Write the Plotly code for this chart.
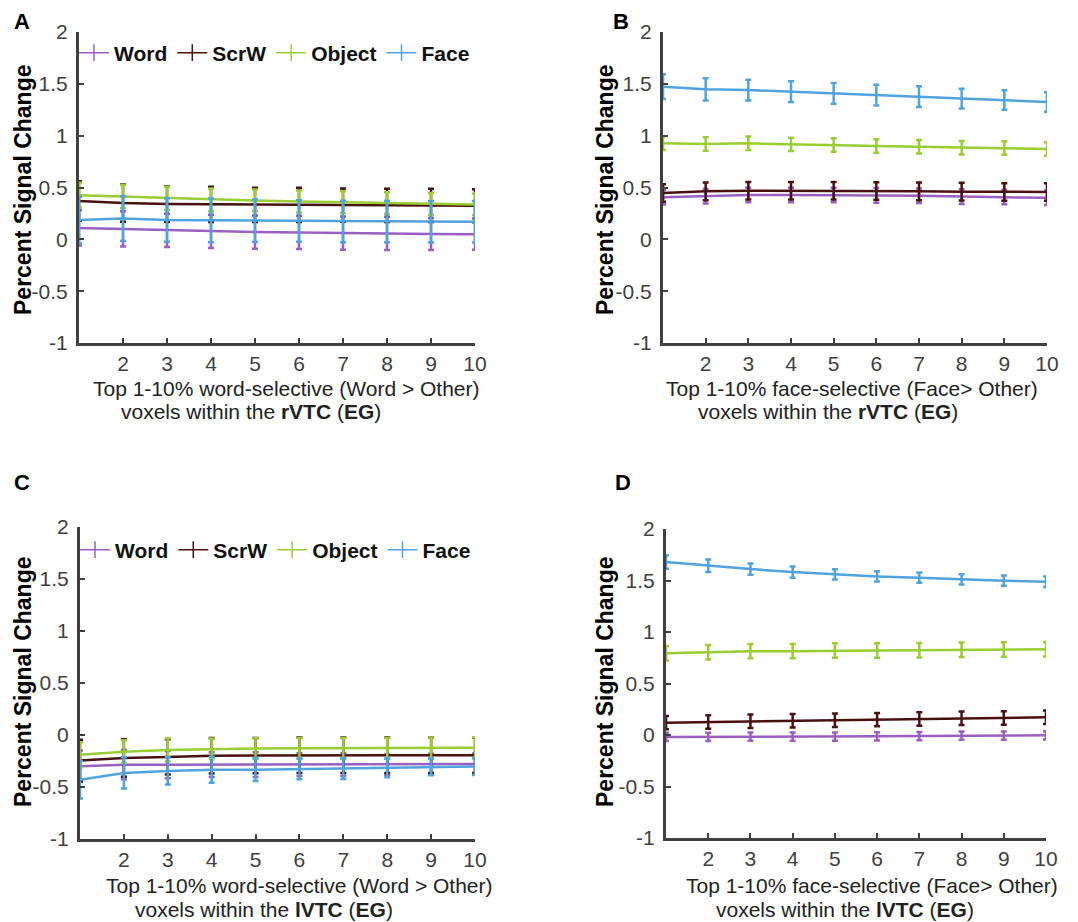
import plotly.graph_objects as go

W, H = 1078, 922
OFF = 8  # page body margin offset

x_vals = [1, 2, 3, 4, 5, 6, 7, 8, 9, 10]
x_ticks = [2, 3, 4, 5, 6, 7, 8, 9, 10]
y_ticks = [-1, -0.5, 0, 0.5, 1, 1.5, 2]
y_ticktext = ["-1", "-0.5", "0", "0.5", "1", "1.5", "2"]
series_names = ["Word", "ScrW", "Object", "Face"]

# Panel A (rVTC, word-selective)
word_A = [0.110, 0.100, 0.087, 0.077, 0.070, 0.067, 0.060, 0.058, 0.051, 0.050]
word_A_err = [0.17, 0.17, 0.16, 0.16, 0.16, 0.16, 0.16, 0.16, 0.155, 0.15]
scrw_A = [0.370, 0.350, 0.340, 0.337, 0.333, 0.333, 0.330, 0.327, 0.327, 0.324]
scrw_A_err = [0.19, 0.18, 0.17, 0.17, 0.165, 0.165, 0.16, 0.16, 0.16, 0.16]
obj_A = [0.426, 0.413, 0.394, 0.381, 0.375, 0.365, 0.359, 0.350, 0.343, 0.337]
obj_A_err = [0.12, 0.11, 0.11, 0.11, 0.105, 0.105, 0.105, 0.105, 0.105, 0.105]
face_A = [0.186, 0.200, 0.186, 0.183, 0.180, 0.176, 0.173, 0.173, 0.170, 0.170]
face_A_err = [0.225, 0.215, 0.21, 0.21, 0.205, 0.2, 0.2, 0.2, 0.2, 0.2]

# Panel B (rVTC, face-selective)
word_B = [0.405, 0.415, 0.428, 0.428, 0.428, 0.424, 0.421, 0.412, 0.408, 0.400]
word_B_err = [0.07] * 10
scrw_B = [0.447, 0.463, 0.469, 0.469, 0.469, 0.466, 0.463, 0.460, 0.457, 0.457]
scrw_B_err = [0.085] * 10
obj_B = [0.926, 0.920, 0.926, 0.916, 0.910, 0.900, 0.894, 0.884, 0.881, 0.871]
obj_B_err = [0.065] * 10
face_B = [1.473, 1.447, 1.440, 1.424, 1.408, 1.392, 1.376, 1.357, 1.344, 1.325]
face_B_err = [0.12, 0.107, 0.1, 0.1, 0.1, 0.1, 0.1, 0.095, 0.095, 0.095]

# Panel C (lVTC, word-selective)
word_C = [-0.300, -0.285, -0.285, -0.285, -0.285, -0.285, -0.285, -0.285, -0.281, -0.278]
word_C_err = [0.15, 0.14, 0.13, 0.12, 0.12, 0.11, 0.11, 0.10, 0.10, 0.10]
scrw_C = [-0.246, -0.221, -0.211, -0.200, -0.198, -0.195, -0.195, -0.195, -0.195, -0.195]
scrw_C_err = [0.2, 0.18, 0.17, 0.17, 0.17, 0.17, 0.17, 0.17, 0.17, 0.17]
obj_C = [-0.189, -0.160, -0.144, -0.134, -0.131, -0.128, -0.128, -0.128, -0.125, -0.122]
obj_C_err = [0.12, 0.11, 0.11, 0.10, 0.10, 0.10, 0.10, 0.10, 0.10, 0.10]
face_C = [-0.430, -0.365, -0.345, -0.333, -0.333, -0.326, -0.323, -0.317, -0.307, -0.304]
face_C_err = [0.18, 0.15, 0.13, 0.125, 0.11, 0.10, 0.10, 0.09, 0.08, 0.08]

# Panel D (lVTC, face-selective)
word_D = [-0.019, -0.019, -0.016, -0.016, -0.016, -0.013, -0.010, -0.006, -0.006, -0.003]
word_D_err = [0.04] * 10
scrw_D = [0.120, 0.126, 0.133, 0.139, 0.143, 0.149, 0.156, 0.162, 0.165, 0.172]
scrw_D_err = [0.065] * 10
obj_D = [0.794, 0.804, 0.814, 0.814, 0.820, 0.820, 0.823, 0.827, 0.830, 0.833]
obj_D_err = [0.07] * 10
face_D = [1.679, 1.643, 1.611, 1.582, 1.559, 1.540, 1.527, 1.510, 1.498, 1.488]
face_D_err = [0.065, 0.06, 0.055, 0.055, 0.05, 0.05, 0.05, 0.05, 0.05, 0.05]

colors = {"Word": "#9a5fc2", "ScrW": "#4a1010", "Object": "#9acd32", "Face": "#4fa3df"}

FONT = "Liberation Sans, Arial, Helvetica, sans-serif"
AXC = "#404040"

def fx(p):
    return (p - OFF) / W

def fy(p):
    return 1 - (p - OFF) / H

panels = [
    ("x", "y", [(word_A, word_A_err), (scrw_A, scrw_A_err), (obj_A, obj_A_err), (face_A, face_A_err)],
     "legend", (79, 475), (32, 343)),
    ("x2", "y2", [(word_B, word_B_err), (scrw_B, scrw_B_err), (obj_B, obj_B_err), (face_B, face_B_err)],
     None, (663, 1047), (32, 343)),
    ("x3", "y3", [(word_C, word_C_err), (scrw_C, scrw_C_err), (obj_C, obj_C_err), (face_C, face_C_err)],
     "legend2", (80, 475), (527, 839)),
    ("x4", "y4", [(word_D, word_D_err), (scrw_D, scrw_D_err), (obj_D, obj_D_err), (face_D, face_D_err)],
     None, (666, 1046), (529, 838)),
]

fig = go.Figure()
layout = dict(
    template="none",
    width=W, height=H,
    margin=dict(l=0, r=0, t=0, b=0, pad=0, autoexpand=False),
    paper_bgcolor="white", plot_bgcolor="white",
    font=dict(family=FONT, color=AXC),
    showlegend=True,
)

for i, (xa, ya, data, leg, (x0, x1), (y0, y1)) in enumerate(panels):
    for name, (vals, errs) in zip(series_names, data):
        c = colors[name]
        fig.add_trace(go.Scatter(
            x=x_vals, y=vals, mode="lines", name=name,
            line=dict(color=c, width=2.5),
            error_y=dict(type="data", array=errs, visible=True, color=c, thickness=2.5, width=3),
            xaxis=xa, yaxis=ya, showlegend=False, cliponaxis=False,
        ))
    if leg is not None:
        for name in series_names:
            c = colors[name]
            fig.add_trace(go.Scatter(
                x=[None], y=[None], mode="lines+markers", name=name,
                line=dict(color=c, width=1.5),
                marker=dict(symbol="line-ns-open", size=12, color=c, line=dict(color=c, width=1.5)),
                xaxis=xa, yaxis=ya, legend=leg, showlegend=True,
            ))
    suffix = "" if i == 0 else str(i + 1)
    layout["xaxis" + suffix] = dict(
        domain=[fx(x0), fx(x1)], anchor=ya, range=[1, 10], automargin=False,
        tickmode="array", tickvals=x_ticks, ticks="inside", ticklen=5, tickwidth=2,
        tickcolor=AXC, showline=True, linecolor=AXC, linewidth=3,
        showgrid=False, zeroline=False,
        tickfont=dict(family=FONT, size=21, color=AXC),
    )
    layout["yaxis" + suffix] = dict(
        domain=[fy(y1), fy(y0)], anchor=xa, range=[-1, 2], automargin=False,
        tickmode="array", tickvals=y_ticks, ticktext=y_ticktext,
        ticks="inside", ticklen=5, tickwidth=2, tickcolor=AXC,
        showline=True, linecolor=AXC, linewidth=3, ticklabelstandoff=4,
        showgrid=False, zeroline=False,
        tickfont=dict(family=FONT, size=21, color=AXC),
    )

leg_common = dict(orientation="h", xanchor="left", yanchor="middle",
                  bgcolor="rgba(0,0,0,0)", borderwidth=0, itemwidth=30,
                  font=dict(family=FONT, size=21, color="#111111", weight="bold"))
layout["legend"] = dict(leg_common, x=fx(74), y=fy(53))
layout["legend2"] = dict(leg_common, x=fx(75), y=fy(550))

annotations = []
def txt(xp, yp, s, size, color, bold=False, angle=0):
    annotations.append(dict(
        x=fx(xp), y=fy(yp), xref="paper", yref="paper",
        text=("<b>%s</b>" % s) if bold else s, showarrow=False,
        font=dict(family=FONT, size=size, color=color),
        textangle=angle, xanchor="center", yanchor="middle",
    ))

txt(22, 22, "A", 22, "#000000", bold=True)
txt(621, 22, "B", 22, "#000000", bold=True)
txt(22, 482, "C", 22, "#000000", bold=True)
txt(623, 482, "D", 22, "#000000", bold=True)

for xc, yc in [(23, 190), (605, 190), (23, 682), (605, 682)]:
    txt(xc, yc, "Percent Signal Change", 23, "#000000", bold=True, angle=-90)

txt(286, 388, "Top 1-10% word-selective (Word &gt; Other)", 21, "#222222")
txt(251, 411, "voxels within the <b>rVTC</b> (<b>EG</b>)", 21, "#222222")
txt(852, 388, "Top 1-10% face-selective (Face&gt; Other)", 21, "#222222")
txt(828, 411, "voxels within the <b>rVTC</b> (<b>EG</b>)", 21, "#222222")
txt(299, 885, "Top 1-10% word-selective (Word &gt; Other)", 21, "#222222")
txt(264, 909, "voxels within the <b>lVTC</b> (<b>EG</b>)", 21, "#222222")
txt(872, 885, "Top 1-10% face-selective (Face&gt; Other)", 21, "#222222")
txt(845, 909, "voxels within the <b>lVTC</b> (<b>EG</b>)", 21, "#222222")

layout["annotations"] = annotations
fig.update_layout(**layout)
fig.write_html("out.html")
